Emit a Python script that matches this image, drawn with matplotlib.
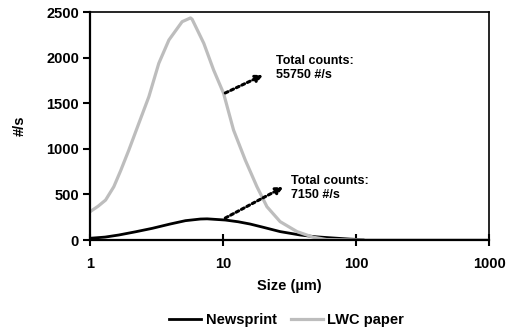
import matplotlib
matplotlib.use("Agg")
import matplotlib.pyplot as plt

plt.rcParams["font.family"] = ["Liberation Sans", "DejaVu Sans"]
plt.rcParams["font.weight"] = "bold"

# size (um) / counts per second
news_size = [1.0, 1.3, 1.65, 2.2, 2.94, 4.0, 5.22, 6.77, 7.6, 10.4, 13.0, 16.0, 20.0,
             26.9, 38.0, 50.0, 67.6, 90.0, 113.0]
news_count = [19, 32, 55, 90, 128, 175, 212, 230, 232, 219, 200, 175, 140,
              92, 55, 35, 22, 10, 3]

lwc_size = [1.0, 1.15, 1.31, 1.51, 1.7, 1.96, 2.33, 2.77, 3.29, 3.92, 4.93, 5.7, 5.86,
            7.17, 8.5, 10.1, 12.0, 14.7, 18.0, 21.4, 26.9, 36.0, 47.8, 60.0,
            100.0, 1000.0]
lwc_count = [310, 370, 438, 584, 760, 987, 1280, 1571, 1937, 2193, 2394, 2435, 2420,
             2157, 1864, 1608, 1206, 877, 584, 365, 201, 92, 30, 5,
             0, 0]

ann_text = ["Total counts:\n55750 #/s", "Total counts:\n7150 #/s"]
ann_tail = [(10.4, 1612), (10.4, 241)]
ann_head = [(20.0, 1809), (28.4, 581)]
ann_textpos = [(25.2, 1886), (32.4, 570)]

fig = plt.figure(figsize=(5.12, 3.31), dpi=100)
ax = fig.add_axes([90 / 512, 1 - 240 / 331, 399 / 512, 228 / 331])

ax.plot(news_size, news_count, color="black", lw=2.0, label="Newsprint")
ax.plot(lwc_size, lwc_count, color="#bdbdbd", lw=2.3, label="LWC paper")

ax.set_xscale("log")
ax.set_xlim(1, 1000)
ax.set_ylim(0, 2500)
ax.set_yticks([0, 500, 1000, 1500, 2000, 2500])
ax.set_xticks([1, 10, 100, 1000])
ax.set_xticklabels(["1", "10", "100", "1000"])
ax.minorticks_off()
ax.tick_params(axis="y", direction="out", length=5, width=1.5, labelsize=10.5, pad=3)
ax.tick_params(axis="x", direction="inout", length=8, width=1.5, labelsize=10.5, pad=8)
for s in ax.spines.values():
    s.set_linewidth(1.6)
ax.spines["top"].set_linewidth(1.2)
ax.spines["right"].set_linewidth(1.2)

ax.set_xlabel("Size (µm)", fontsize=10.5, fontweight="bold", labelpad=6)
ax.set_ylabel("#/s", fontsize=10.5, fontweight="bold", labelpad=14)

for txt, tail, head, tpos in zip(ann_text, ann_tail, ann_head, ann_textpos):
    ax.annotate("", xy=head, xytext=tail,
                arrowprops=dict(arrowstyle="-|>", linestyle=(0, (1, 1)), lw=2.2,
                                color="black", mutation_scale=10, shrinkA=0, shrinkB=0))
    ax.text(tpos[0], tpos[1], txt, fontsize=9, fontweight="bold", va="center",
            ha="left", linespacing=1.25)

fig.legend(loc="center", bbox_to_anchor=(0.56, 1 - 320 / 331), ncol=2, frameon=False,
           handlelength=2.2, handletextpad=0.3, columnspacing=1.0,
           prop={"weight": "bold", "size": 10.5})

fig.savefig("out.png", dpi=100)
